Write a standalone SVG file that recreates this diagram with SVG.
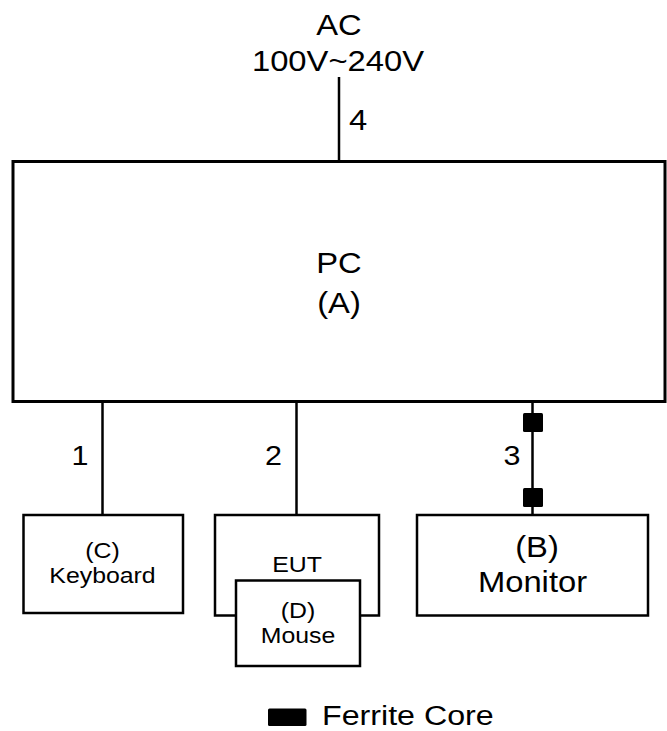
<svg xmlns="http://www.w3.org/2000/svg" width="667" height="731" viewBox="0 0 667 731">
<style>
.box{fill:#fff;stroke:#000;stroke-width:2.5}
.pc{fill:#fff;stroke:#000;stroke-width:3}
.ln{stroke:#000;stroke-width:2.5;fill:none}
.fc{fill:#000}
text{font-family:"Liberation Sans",Arial,sans-serif;fill:#000;text-anchor:middle}
.l{font-size:29px}
.m{font-size:27px}
.mm{font-size:29px}
.s{font-size:22px}
.lg{font-size:28px;text-anchor:start}
</style>
<g id="connectors">
<line class="ln" x1="339" y1="77" x2="339" y2="162"/>
<line class="ln" x1="102.5" y1="401" x2="102.5" y2="515"/>
<line class="ln" x1="296.5" y1="401" x2="296.5" y2="515"/>
<line class="ln" x1="532.5" y1="401" x2="532.5" y2="515"/>
<rect class="fc" x="523" y="413" width="20" height="19" rx="1.5"/>
<rect class="fc" x="523" y="488" width="20" height="19" rx="1.5"/>
<text class="l" transform="translate(358 130) scale(1.13 1)">4</text>
<text class="m" transform="translate(80 465) scale(1.13 1)">1</text>
<text class="m" transform="translate(273.5 465) scale(1.13 1)">2</text>
<text class="m" transform="translate(512 465) scale(1.13 1)">3</text>
</g>
<g id="ac">
<text class="l" transform="translate(339 35) scale(1.13 1)">AC</text>
<text class="l" transform="translate(338 71) scale(1.13 1)">100V~240V</text>
</g>
<g id="pc">
<rect class="pc" x="13" y="161.5" width="652" height="240"/>
<text class="l" transform="translate(339 273) scale(1.13 1)">PC</text>
<text class="l" transform="translate(339 313) scale(1.13 1)">(A)</text>
</g>
<g id="keyboard">
<rect class="box" x="23.5" y="515" width="159.5" height="98"/>
<text class="s" transform="translate(102.5 558) scale(1.13 1)">(C)</text>
<text class="s" transform="translate(102.5 583) scale(1.13 1)">Keyboard</text>
</g>
<g id="eut">
<rect class="box" x="215" y="515" width="164" height="100.5"/>
<text class="s" transform="translate(297 572) scale(1.13 1)">EUT</text>
</g>
<g id="mouse">
<rect class="box" x="236" y="580.5" width="124" height="85.5"/>
<text class="s" transform="translate(298 618) scale(1.13 1)">(D)</text>
<text class="s" transform="translate(298 642.5) scale(1.13 1)">Mouse</text>
</g>
<g id="monitor">
<rect class="box" x="417" y="515" width="231" height="100.5"/>
<text class="mm" transform="translate(537 556.5) scale(1.13 1)">(B)</text>
<text class="mm" transform="translate(532.5 591.5) scale(1.13 1)">Monitor</text>
</g>
<g id="legend">
<rect class="fc" x="268" y="708.5" width="38.5" height="17.5" rx="1.5"/>
<text class="lg" transform="translate(322 725) scale(1.15 1)">Ferrite Core</text>
</g>
</svg>
